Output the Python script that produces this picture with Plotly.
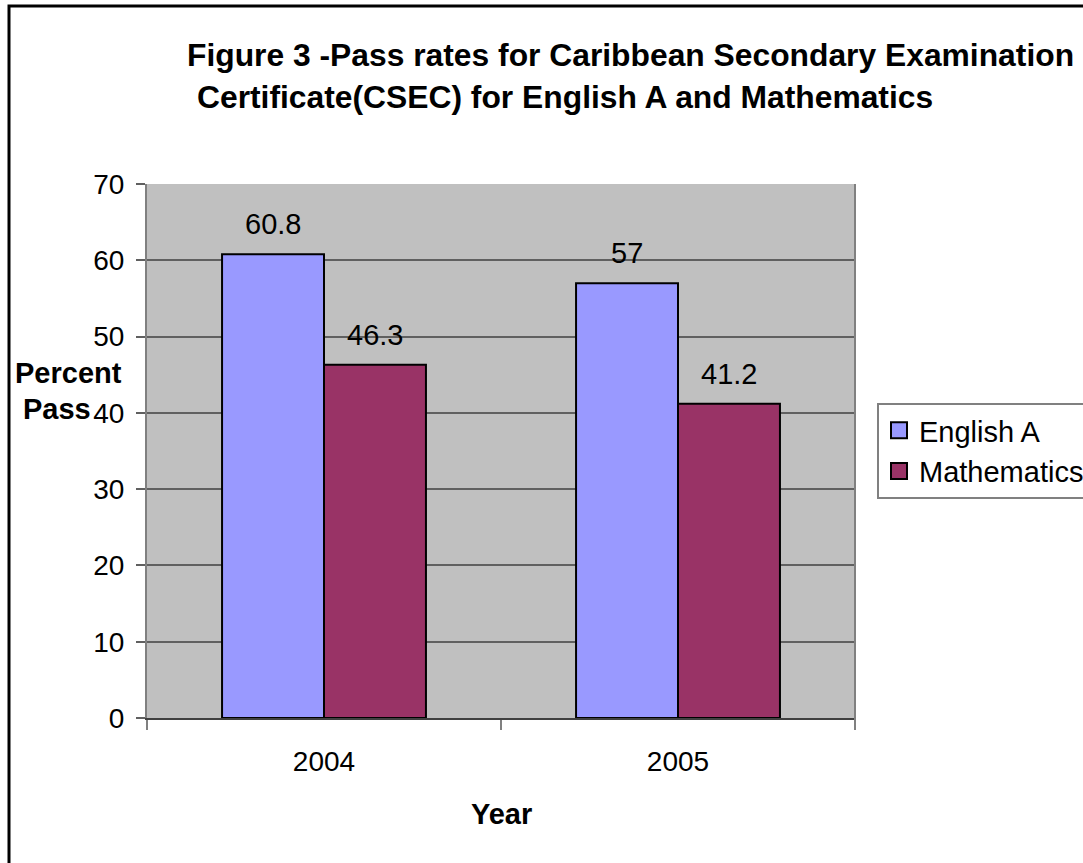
import plotly.graph_objects as go

years = ["2004", "2005"]
english = [60.8, 57]
maths = [46.3, 41.2]
series_names = ["English A", "Mathematics"]
series_colors = ["#9999FF", "#993366"]
y_ticks = [0, 10, 20, 30, 40, 50, 60, 70]

FONT = "Liberation Sans, Arial, sans-serif"
W, H = 1083, 863
L, R, T, B = 147, 228, 184, 145
PW = W - L - R
PH = H - T - B
BARGAP = 0.424

fig = go.Figure()
for name, vals, col in zip(series_names, [english, maths], series_colors):
    fig.add_trace(go.Bar(
        x=years, y=vals, name=name, legendgroup=name, showlegend=False,
        marker=dict(color=col, line=dict(color="black", width=2)),
    ))
# legend entries with larger square swatches
for name, col in zip(series_names, series_colors):
    fig.add_trace(go.Scatter(
        x=[None], y=[None], mode="markers", name=name, legendgroup=name,
        marker=dict(symbol="square", size=16, color=col, line=dict(color="black", width=2)),
    ))

# data labels above bars
cat_px = PW / len(years)
bar_px = cat_px * (1 - BARGAP) / 2
for i, vals in enumerate([english, maths]):
    for j, v in enumerate(vals):
        fig.add_annotation(
            x=j, y=v, text=f"{v:g}", showarrow=False,
            xshift=(i - 0.5) * bar_px, yshift=12, yanchor="bottom",
            font=dict(family=FONT, size=29, color="black"),
        )

# title lines (left aligned, second line indented)
fig.add_annotation(xref="paper", yref="paper", x=(185 - L) / PW, y=(H - B - 55) / PH,
                   text="<b>Figure 3 -Pass rates for Caribbean Secondary Examination</b>",
                   showarrow=False, xanchor="left", yanchor="middle",
                   font=dict(family=FONT, size=31.8, color="black"))
fig.add_annotation(xref="paper", yref="paper", x=(195 - L) / PW, y=(H - B - 97) / PH,
                   text="<b>Certificate(CSEC) for English A and Mathematics</b>",
                   showarrow=False, xanchor="left", yanchor="middle",
                   font=dict(family=FONT, size=31.8, color="black"))
# y-axis title (two lines)
fig.add_annotation(xref="paper", yref="paper", x=(68 - L) / PW, y=(H - B - 373) / PH,
                   text="<b>Percent</b>", showarrow=False,
                   xanchor="center", yanchor="middle",
                   font=dict(family=FONT, size=29, color="black"))
fig.add_annotation(xref="paper", yref="paper", x=(57 - L) / PW, y=(H - B - 409) / PH,
                   text="<b>Pass</b>", showarrow=False,
                   xanchor="center", yanchor="middle",
                   font=dict(family=FONT, size=29, color="black"))
# x-axis title
fig.add_annotation(xref="paper", yref="paper", x=0.5, y=(H - B - 814) / PH,
                   text="<b>Year</b>", showarrow=False,
                   xanchor="center", yanchor="middle",
                   font=dict(family=FONT, size=29, color="black"))

# outer frame
fig.add_shape(type="rect", xref="paper", yref="paper",
              x0=(9 - L) / PW, x1=(1100 - L) / PW,
              y0=(H - B - 880) / PH, y1=(H - B - 6) / PH,
              line=dict(color="black", width=3), fillcolor="rgba(0,0,0,0)", layer="below")

fig.update_layout(
    width=W, height=H,
    margin=dict(l=L, r=R, t=T, b=B, autoexpand=False),
    paper_bgcolor="white", plot_bgcolor="#C0C0C0",
    barmode="group", bargap=BARGAP, bargroupgap=0,
    font=dict(family=FONT, size=28, color="black"),
    showlegend=True,
    legend=dict(x=(877 - L) / PW, y=(H - B - 403) / PH, xanchor="left", yanchor="top",
                bgcolor="white", bordercolor="#808080", borderwidth=2,
                font=dict(family=FONT, size=29, color="black"),
                itemsizing="trace", tracegroupgap=0),
)
fig.update_xaxes(
    type="category", range=[-0.5, 1.5], autorange=False,
    showgrid=False, showline=True, linecolor="#404040", linewidth=2,
    ticks="outside", tickson="boundaries", ticklen=10, tickcolor="#808080", tickwidth=2,
    ticklabelstandoff=17, tickfont=dict(family=FONT, size=28), tickangle=0,
)
fig.update_yaxes(
    range=[0, 70], tickvals=y_ticks, showgrid=True, gridcolor="#606060", gridwidth=1.5,
    showline=True, linecolor="#808080", linewidth=2, zeroline=False,
    ticks="outside", ticklen=9, tickcolor="#606060", tickwidth=1.5,
    ticklabelstandoff=6, tickfont=dict(family=FONT, size=28),
)
# right border of plot area
fig.add_shape(type="line", xref="paper", yref="paper", x0=1, x1=1, y0=-10 / PH, y1=1,
              line=dict(color="#808080", width=2))

fig.write_html("out.html")
